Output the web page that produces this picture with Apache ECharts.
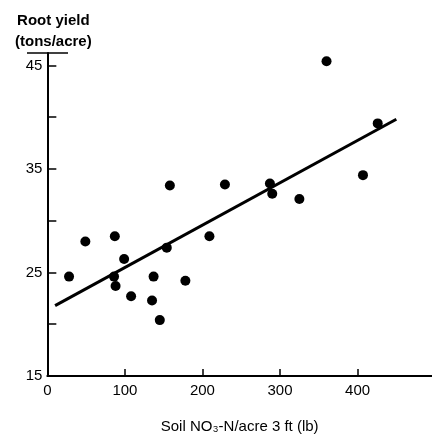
<!DOCTYPE html>
<html>
<head>
<meta charset="utf-8">
<script src="https://cdn.jsdelivr.net/npm/echarts@6/dist/echarts.min.js"></script>
<style>
  html, body { margin: 0; padding: 0; background: #fff; }
  #chart { width: 432px; height: 439px; }
</style>
</head>
<body>
<div id="chart"></div>
<script>
// soil nitrate (lb/acre, 3 ft) vs root yield (tons/acre)
const soilNO3 = [28, 49, 87, 99, 86, 88, 108, 137, 135, 145, 154, 158, 178, 209, 229, 287, 290, 325, 360, 407, 426]
const rootYield = [24.6, 28.0, 28.5, 26.3, 24.6, 23.7, 22.7, 24.6, 22.3, 20.4, 27.4, 33.4, 24.2, 28.5, 33.5, 33.6, 32.6, 32.1, 45.4, 34.4, 39.4]

// fitted regression line, endpoints as drawn
const fitX = [10, 450]
const fitY = [21.8, 39.8]

const xTicks = [0, 100, 200, 300, 400]
const yLabels = [15, 25, 35, 45]

const fontFamily = '"Liberation Sans", Arial, sans-serif'
const ink = '#000'

const chart = echarts.init(document.getElementById('chart'))

chart.setOption({
  animation: false,
  grid: {
    left: 44,
    right: 0,
    top: 53,
    bottom: 58
  },
  xAxis: {
    type: 'value',
    min: 0,
    max: 496,
    interval: 100,
    name: 'Soil NO₃-N/acre 3 ft (lb)',
    nameLocation: 'middle',
    nameGap: 43,
    nameTextStyle: { color: ink, fontSize: 15, fontFamily },
    axisLine: { lineStyle: { color: ink, width: 2 } },
    axisTick: { inside: true, length: 7, lineStyle: { color: ink, width: 1.5 } },
    axisLabel: {
      color: ink,
      fontSize: 15,
      fontFamily,
      margin: 7,
      showMaxLabel: false,
      formatter: v => (xTicks.includes(v) ? String(v) : '')
    },
    splitLine: { show: false }
  },
  yAxis: {
    type: 'value',
    min: 15,
    max: 46.2,
    interval: 5,
    name: 'Root yield\n(tons/acre)',
    nameLocation: 'end',
    nameGap: 1,
    nameTextStyle: {
      color: ink,
      fontSize: 15,
      fontWeight: 'bold',
      fontFamily,
      lineHeight: 21,
      align: 'center',
      padding: [0, 0, 0, 12]
    },
    axisLine: { lineStyle: { color: ink, width: 2 } },
    axisTick: { inside: true, length: 9, lineStyle: { color: ink, width: 1.5 } },
    axisLabel: {
      color: ink,
      fontSize: 15,
      fontFamily,
      margin: 5,
      showMaxLabel: false,
      formatter: v => (yLabels.includes(v) ? String(v) : '')
    },
    splitLine: { show: false }
  },
  graphic: [{
    type: 'line',
    shape: { x1: 27, y1: 53, x2: 68, y2: 53 },
    style: { stroke: ink, lineWidth: 1.5 }
  }],
  series: [{
    type: 'scatter',
    symbolSize: 10,
    itemStyle: { color: ink, opacity: 1 },
    data: soilNO3.map((x, i) => [x, rootYield[i]])
  }, {
    type: 'line',
    showSymbol: false,
    lineStyle: { color: ink, width: 3 },
    data: fitX.map((x, i) => [x, fitY[i]])
  }]
})
</script>
</body>
</html>
